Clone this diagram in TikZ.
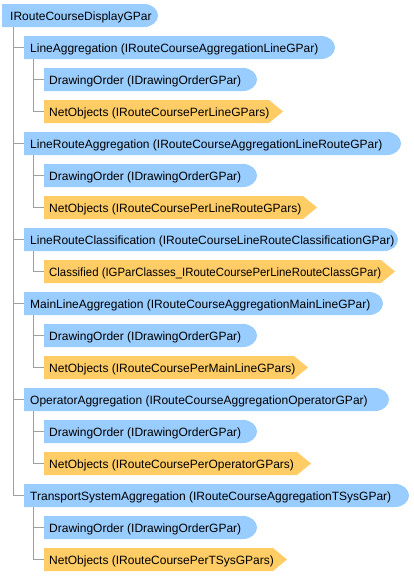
\documentclass[tikz,border=0pt]{standalone}
\usepackage{fontspec}
\setmainfont{Liberation Sans}
\definecolor{bluefill}{HTML}{99CCFF}
\definecolor{orangefill}{HTML}{FFCC66}
\definecolor{treegray}{HTML}{A0A0A0}
\tikzset{
  lbl/.style={anchor=base west, inner sep=0pt, font=\fontsize{12}{14}\selectfont, text=black},
  tree/.style={draw=treegray, line width=1.6pt},
}
% name, x-left, x-right, y-center, x-text, text
\newcommand\bluebox[6]{%
  \fill[bluefill] (#2,#4-11.5) -- (#3-14,#4-11.5)
     arc[start angle=-90,end angle=90,x radius=14,y radius=11.5] -- (#2,#4+11.5) -- cycle;
  \coordinate (#1-l) at (#2,#4);
  \node[lbl] (#1) at (#5,#4+4.8) {#6};}
\newcommand\orangebox[6]{%
  \fill[orangefill] (#2,#4-11.5) -- (#3-14,#4-11.5) -- (#3,#4) -- (#3-14,#4+11.5) -- (#2,#4+11.5) -- cycle;
  \coordinate (#1-l) at (#2,#4);
  \node[lbl] (#1) at (#5,#4+4.8) {#6};}
\begin{document}
\begin{tikzpicture}[x=1pt,y=-1pt]
\useasboundingbox (0,0) rectangle (414,576);
% root
\bluebox{root}{2}{158}{15.5}{10}{IRouteCourseDisplayGPar}
% LineAggregation
\bluebox{la}{24}{335}{47.5}{30}{LineAggregation (IRouteCourseAggregationLineGPar)}
\bluebox{lado}{44}{257}{79.5}{49}{DrawingOrder (IDrawingOrderGPar)}
\orangebox{lano}{44}{283}{111.5}{49}{NetObjects (IRouteCoursePerLineGPars)}
% LineRouteAggregation
\bluebox{lra}{24}{401}{143.5}{30}{LineRouteAggregation (IRouteCourseAggregationLineRouteGPar)}
\bluebox{lrado}{44}{257}{175.5}{49}{DrawingOrder (IDrawingOrderGPar)}
\orangebox{lrano}{44}{317}{207.5}{49}{NetObjects (IRouteCoursePerLineRouteGPars)}
% LineRouteClassification
\bluebox{lrc}{24}{398}{239.5}{30}{LineRouteClassification (IRouteCourseLineRouteClassificationGPar)}
\orangebox{lrccl}{44}{395}{271.5}{49}{\scalebox{0.95}[1]{Classified (IGParClasses\_IRouteCoursePerLineRouteClassGPar)}}
% MainLineAggregation
\bluebox{mla}{24}{383}{303.5}{30}{MainLineAggregation (IRouteCourseAggregationMainLineGPar)}
\bluebox{mlado}{44}{257}{335.5}{49}{DrawingOrder (IDrawingOrderGPar)}
\orangebox{mlano}{44}{308}{367.5}{49}{NetObjects (IRouteCoursePerMainLineGPars)}
% OperatorAggregation
\bluebox{oa}{24}{389}{399.5}{30}{OperatorAggregation (IRouteCourseAggregationOperatorGPar)}
\bluebox{oado}{44}{257}{431.5}{49}{DrawingOrder (IDrawingOrderGPar)}
\orangebox{oano}{44}{311}{463.5}{49}{NetObjects (IRouteCoursePerOperatorGPars)}
% TransportSystemAggregation
\bluebox{tsa}{24}{409}{495.5}{30}{TransportSystemAggregation (IRouteCourseAggregationTSysGPar)}
\bluebox{tsado}{44}{257}{527.5}{49}{DrawingOrder (IDrawingOrderGPar)}
\orangebox{tsano}{44}{287}{559.5}{49}{NetObjects (IRouteCoursePerTSysGPars)}
% tree connectors
\coordinate (root-t) at (13.5,27);
\draw[tree] (root-t) |- (tsa-l);
\foreach \n in {la,lra,lrc,mla,oa} \draw[tree] (root-t |- \n-l) -- (\n-l);
\coordinate (la-t) at (33.5,59);
\coordinate (lra-t) at (33.5,155);
\coordinate (lrc-t) at (33.5,251);
\coordinate (mla-t) at (33.5,315);
\coordinate (oa-t) at (33.5,411);
\coordinate (tsa-t) at (33.5,507);
\draw[tree] (la-t) |- (lano-l);
\draw[tree] (la-t |- lado-l) -- (lado-l);
\draw[tree] (lra-t) |- (lrano-l);
\draw[tree] (lra-t |- lrado-l) -- (lrado-l);
\draw[tree] (lrc-t) |- (lrccl-l);
\draw[tree] (mla-t) |- (mlano-l);
\draw[tree] (mla-t |- mlado-l) -- (mlado-l);
\draw[tree] (oa-t) |- (oano-l);
\draw[tree] (oa-t |- oado-l) -- (oado-l);
\draw[tree] (tsa-t) |- (tsano-l);
\draw[tree] (tsa-t |- tsado-l) -- (tsado-l);
\end{tikzpicture}
\end{document}
